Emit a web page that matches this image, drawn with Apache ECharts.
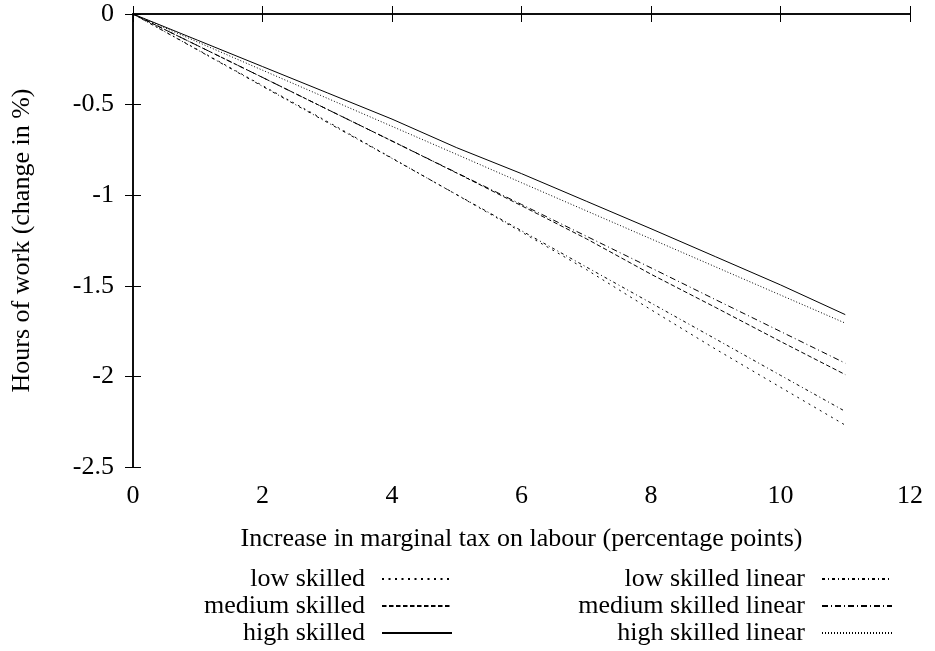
<!DOCTYPE html>
<html>
<head>
<meta charset="utf-8">
<script src="https://cdn.jsdelivr.net/npm/echarts@6/dist/echarts.min.js"></script>
<style>
html,body{margin:0;padding:0;background:#fff;}
#chart{width:935px;height:651px;}
</style>
</head>
<body>
<div id="chart"></div>
<script>
const xValues = [0, 1, 2, 3, 4, 5, 6, 7, 8, 9, 10, 11];
const lowSkilled = [0, -0.197, -0.395, -0.593, -0.795, -0.998, -1.203, -1.41, -1.632, -1.85, -2.06, -2.269];
const mediumSkilled = [0, -0.175, -0.350, -0.526, -0.701, -0.878, -1.058, -1.24, -1.436, -1.62, -1.807, -1.99];
const highSkilled = [0, -0.145, -0.29, -0.435, -0.58, -0.738, -0.881, -1.033, -1.185, -1.34, -1.495, -1.659];
const lowLinear = [0, -0.199, -0.399, -0.598, -0.797, -0.997, -1.196, -1.396, -1.595, -1.794, -1.994, -2.193];
const mediumLinear = [0, -0.175, -0.350, -0.526, -0.701, -0.876, -1.051, -1.226, -1.401, -1.577, -1.752, -1.927];
const highLinear = [0, -0.155, -0.310, -0.465, -0.620, -0.775, -0.931, -1.086, -1.241, -1.396, -1.551, -1.706];
const seriesNames = ['low skilled', 'medium skilled', 'high skilled', 'low skilled linear', 'medium skilled linear', 'high skilled linear'];
const xTitle = 'Increase in marginal tax on labour (percentage points)';
const yTitle = 'Hours of work (change in %)';

const FONT = 'Liberation Serif';
const FS = 26;
const seriesData = [lowSkilled, mediumSkilled, highSkilled, lowLinear, mediumLinear, highLinear];
const dashes = [[2, 4.5], [4.5, 2.5], 'solid', [3, 3, 1, 3], [6, 3, 1, 3], [1, 2]];

const chart = echarts.init(document.getElementById('chart'), null, {renderer: 'canvas'});

const axisCommon = {
  axisLine: {show: true, lineStyle: {color: '#000', width: 1.5}},
  axisTick: {show: true, inside: true, length: 8, lineStyle: {color: '#000', width: 1}},
  splitLine: {show: false}
};

const legendCommon = {
  orient: 'vertical', align: 'right', top: 566, padding: 0, itemGap: 1,
  itemWidth: 70, itemHeight: 14,
  itemStyle: {opacity: 0, color: 'transparent', borderWidth: 0},
  textStyle: {fontFamily: FONT, fontSize: FS, color: '#000', padding: [0, 12, 0, 0]},
  selectedMode: false
};

const option = {
  backgroundColor: '#fff',
  animation: false,
  grid: {left: 133, right: 25, top: 14, bottom: 184, containLabel: false},
  xAxis: [
    Object.assign({
      type: 'value', position: 'bottom', min: 0, max: 12, interval: 2,
      name: xTitle, nameLocation: 'middle', nameGap: 59,
      nameTextStyle: {fontFamily: FONT, fontSize: FS, color: '#000'},
      axisLabel: {fontFamily: FONT, fontSize: FS, color: '#000', margin: 16}
    }, axisCommon),
    Object.assign({
      type: 'value', position: 'top', min: 0, max: 12, interval: 2,
      axisLabel: {show: false}
    }, axisCommon)
  ],
  yAxis: [
    Object.assign({
      type: 'value', position: 'left', min: -2.5, max: 0, interval: 0.5,
      name: yTitle, nameLocation: 'middle', nameGap: 98,
      nameTextStyle: {fontFamily: FONT, fontSize: FS, color: '#000'},
      axisLabel: {fontFamily: FONT, fontSize: FS, color: '#000', margin: 19}
    }, axisCommon),
    Object.assign({
      type: 'value', position: 'right', min: -2.5, max: 0, interval: 0.5,
      axisLabel: {show: false}
    }, axisCommon)
  ],
  legend: [
    Object.assign({data: seriesNames.slice(0, 3), right: 482}, legendCommon),
    Object.assign({data: seriesNames.slice(3), right: 42}, legendCommon)
  ],
  series: seriesNames.map((name, i) => ({
    name: name,
    type: 'line',
    xAxisIndex: 0, yAxisIndex: 0,
    data: xValues.map((x, j) => [x, seriesData[i][j]]),
    symbol: 'none', showSymbol: false,
    lineStyle: {color: '#000', width: 1, type: dashes[i]},
    itemStyle: {color: '#000'},
    z: 2
  }))
};
chart.setOption(option);
</script>
</body>
</html>
